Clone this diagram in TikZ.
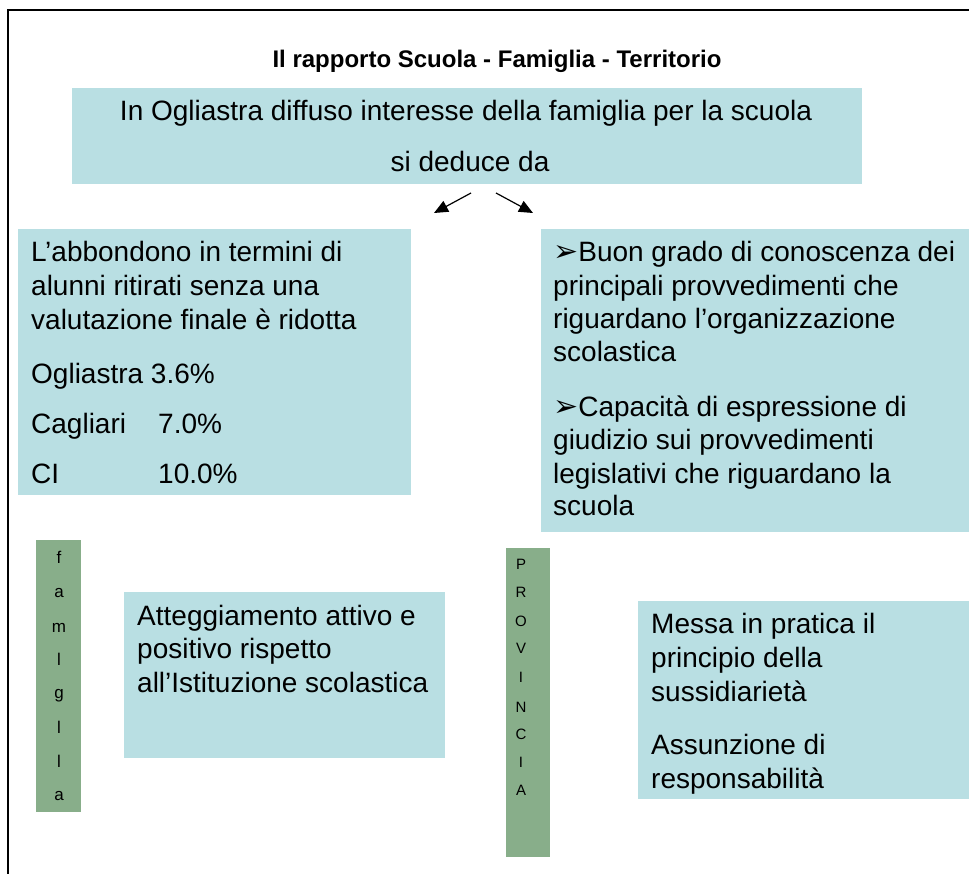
\documentclass[tikz,border=0pt]{standalone}
\usepackage{fontspec}
\setmainfont{Liberation Sans}
\newfontfamily\symfont{DejaVu Sans}
\usetikzlibrary{arrows.meta}
\definecolor{boxblue}{RGB}{185,223,227}
\definecolor{stripgreen}{RGB}{136,174,138}
\newcommand{\bulletarrow}{{\symfont\fontsize{30}{30}\selectfont ➢}}
\begin{document}
\begin{tikzpicture}[x=1pt,y=-1pt,
  panel/.style={fill=boxblue, draw=none, inner sep=0pt, outer sep=0pt, anchor=north west},
  strip/.style={fill=stripgreen, draw=none, inner sep=0pt, outer sep=0pt, anchor=north west},
  txt/.style={anchor=base west, inner sep=0pt, font=\fontsize{28}{33}\selectfont},
  ctxt/.style={anchor=base, inner sep=0pt, font=\fontsize{28}{33}\selectfont},
  ltr/.style={anchor=base, inner sep=0pt, font=\fontsize{17}{17}\selectfont},
  ltrs/.style={anchor=base, inner sep=0pt, font=\fontsize{15}{15}\selectfont},
  arr/.style={-{Triangle[length=14pt,width=12pt]}, line width=1.2pt}]
\useasboundingbox (0,0) rectangle (969,874);
% frame
\draw[line width=1.3pt] (8,874) -- (8,10) -- (969,10);
% title
\node[anchor=base, inner sep=0pt, font=\fontsize{24}{28}\selectfont\bfseries] (title) at (497,68) {Il rapporto Scuola - Famiglia - Territorio};
% top box
\node[panel, minimum width=790pt, minimum height=96pt] (top) at (72,88) {};
\node[ctxt] (t1) at (466,121) {In Ogliastra diffuso interesse della famiglia per la scuola};
\node[ctxt] (t2) at (470,172) {si deduce da};
% arrows
\coordinate (la) at (471,193);
\coordinate (lb) at (434,213);
\coordinate (ra) at (496,193);
\coordinate (rb) at (533,213);
\draw[arr] (la) -- (lb);
\draw[arr] (ra) -- (rb);
% left box
\node[panel, minimum width=393pt, minimum height=266pt] (abb) at (18,229) {};
\node[txt] (a1) at (31,262) {L’abbondono in termini di};
\node[txt] (a2) at (31,296) {alunni ritirati senza una};
\node[txt] (a3) at (31,330) {valutazione finale è ridotta};
\node[txt] (a4) at (31,384) {Ogliastra 3.6\%};
\node[txt] (a5) at (31,433) {Cagliari};
\node[txt] (a6) at (158,433) {7.0\%};
\node[txt] (a7) at (31,483) {CI};
\node[txt] (a8) at (158,483) {10.0\%};
% right box
\node[panel, minimum width=428pt, minimum height=303pt] (con) at (541,229) {};
\node[txt] (b1) at (553,262) {\bulletarrow Buon grado di conoscenza dei};
\node[txt] (b2) at (553,296) {principali provvedimenti che};
\node[txt] (b3) at (553,329) {riguardano l’organizzazione};
\node[txt] (b4) at (553,362) {scolastica};
\node[txt] (b5) at (553,417) {\bulletarrow Capacità di espressione di};
\node[txt] (b6) at (553,449) {giudizio sui provvedimenti};
\node[txt] (b7) at (553,483) {legislativi che riguardano la};
\node[txt] (b8) at (553,515) {scuola};
% famiglia strip
\node[strip, minimum width=45pt, minimum height=272pt] (fam) at (36,540) {};
\foreach \l/\y [count=\i] in {f/563,a/597,m/632,l/665,g/698,l/733,l/767,a/800}
  \node[ltr] (f\i) at (59,\y) {\l};
% middle box
\node[panel, minimum width=321pt, minimum height=166pt] (att) at (124,592) {};
\node[txt] (c1) at (137,625) {Atteggiamento attivo e};
\node[txt] (c2) at (137,658) {positivo rispetto};
\node[txt] (c3) at (137,692) {all’Istituzione scolastica};
% provincia strip
\node[strip, minimum width=44pt, minimum height=309pt] (prov) at (506,548) {};
\foreach \l/\y [count=\i] in {P/569,R/597,O/626,V/653,I/682,N/712,C/739,I/767,A/795}
  \node[ltrs] (p\i) at (521,\y) {\l};
% right bottom box
\node[panel, minimum width=331pt, minimum height=198pt] (sus) at (638,601) {};
\node[txt] (d1) at (651,633) {Messa in pratica il};
\node[txt] (d2) at (651,667) {principio della};
\node[txt] (d3) at (651,701) {sussidiarietà};
\node[txt] (d4) at (651,754) {Assunzione di};
\node[txt] (d5) at (651,788) {responsabilità};
\end{tikzpicture}
\end{document}
